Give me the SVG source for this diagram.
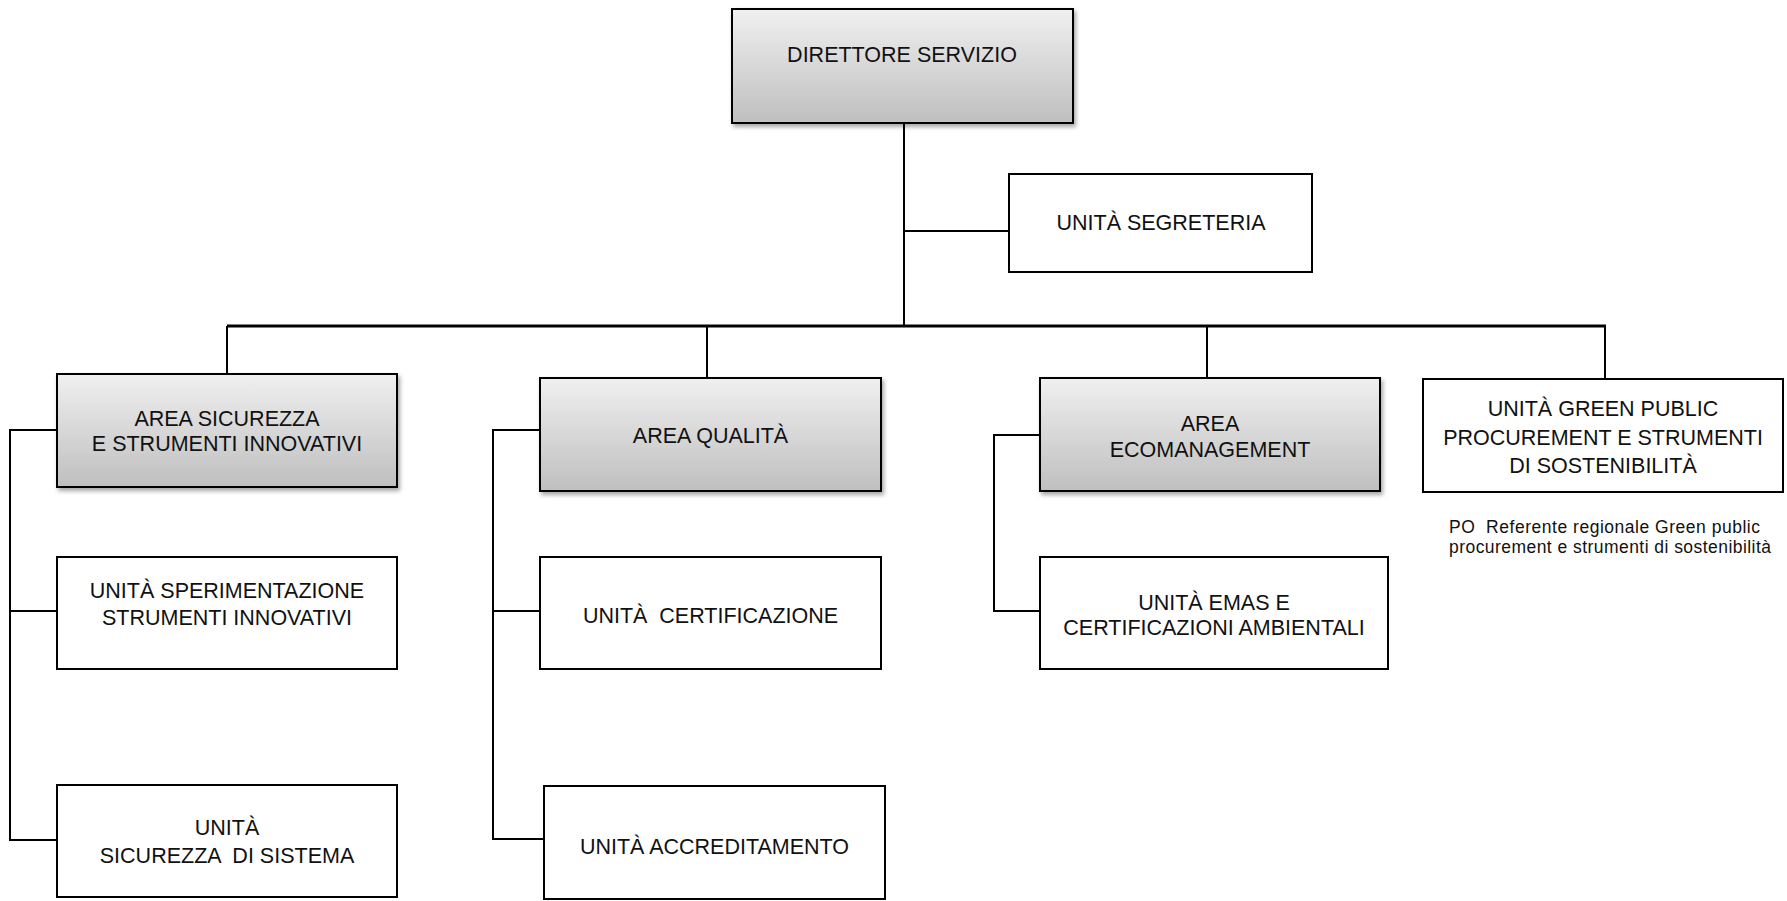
<svg xmlns="http://www.w3.org/2000/svg" width="1787" height="901" viewBox="0 0 1787 901">
  <defs>
    <linearGradient id="gradArea" x1="0" y1="0" x2="0" y2="1">
      <stop offset="0" stop-color="#f0f0f0"/>
      <stop offset="1" stop-color="#bfbfbf"/>
    </linearGradient>
    <filter id="shadow" x="-5%" y="-5%" width="112%" height="125%">
      <feDropShadow dx="2" dy="3" stdDeviation="2" flood-color="#000" flood-opacity="0.35"/>
    </filter>
  </defs>
  <style>
    .area { fill: url(#gradArea); stroke: #000; stroke-width: 2; filter: url(#shadow); }
    .unit { fill: #fff; stroke: #000; stroke-width: 2; }
    .lbl { font-family: "Liberation Sans", Arial, sans-serif; font-size: 21.5px; fill: #111; text-anchor: middle; white-space: pre; }
    .note { font-family: "Liberation Sans", Arial, sans-serif; font-size: 17.5px; fill: #111; white-space: pre; }
    .conn { fill: none; stroke: #000; stroke-width: 2; }
    .bus { fill: none; stroke: #000; stroke-width: 3; }
  </style>
  <rect width="1787" height="901" fill="#fff"/>

  <g id="connectors">
    <path class="conn" d="M904 123 V326"/>
    <path class="conn" d="M904 231 H1009"/>
    <path class="bus" d="M227 326 H1606"/>
    <path class="conn" d="M227 326 V374"/>
    <path class="conn" d="M707 326 V378"/>
    <path class="conn" d="M1207 326 V378"/>
    <path class="conn" d="M1605 326 V379"/>
    <path class="conn" d="M57 430 H10 V840 H57"/>
    <path class="conn" d="M10 611 H57"/>
    <path class="conn" d="M540 430 H493 V839 H544"/>
    <path class="conn" d="M493 611 H540"/>
    <path class="conn" d="M1040 435 H994 V611 H1040"/>
  </g>

  <g id="direttore">
    <rect class="area" x="732" y="9" width="341" height="114"/>
    <text class="lbl" x="902" y="61.5">DIRETTORE SERVIZIO</text>
  </g>
  <g id="segreteria">
    <rect class="unit" x="1009" y="174" width="303" height="98"/>
    <text class="lbl" x="1161" y="229.5">UNITÀ SEGRETERIA</text>
  </g>
  <g id="area-sicurezza">
    <rect class="area" x="57" y="374" width="340" height="113"/>
    <text class="lbl" x="227" y="426">AREA SICUREZZA</text>
    <text class="lbl" x="227" y="451">E STRUMENTI INNOVATIVI</text>
  </g>
  <g id="area-qualita">
    <rect class="area" x="540" y="378" width="341" height="113"/>
    <text class="lbl" x="710.5" y="442.5">AREA QUALITÀ</text>
  </g>
  <g id="area-ecomanagement">
    <rect class="area" x="1040" y="378" width="340" height="113"/>
    <text class="lbl" x="1210" y="431">AREA</text>
    <text class="lbl" x="1210" y="457">ECOMANAGEMENT</text>
  </g>
  <g id="unita-gpp">
    <rect class="unit" x="1423" y="379" width="360" height="113"/>
    <text class="lbl" x="1603" y="416">UNITÀ GREEN PUBLIC</text>
    <text class="lbl" x="1603" y="444.5">PROCUREMENT E STRUMENTI</text>
    <text class="lbl" x="1603" y="473">DI SOSTENIBILITÀ</text>
  </g>
  <g id="po-note">
    <text class="note" x="1449" y="533" textLength="311" lengthAdjust="spacing">PO  Referente regionale Green public</text>
    <text class="note" x="1449" y="553" textLength="322" lengthAdjust="spacing">procurement e strumenti di sostenibilità</text>
  </g>
  <g id="unita-sperimentazione">
    <rect class="unit" x="57" y="557" width="340" height="112"/>
    <text class="lbl" x="227" y="598">UNITÀ SPERIMENTAZIONE</text>
    <text class="lbl" x="227" y="624.5">STRUMENTI INNOVATIVI</text>
  </g>
  <g id="unita-certificazione">
    <rect class="unit" x="540" y="557" width="341" height="112"/>
    <text class="lbl" x="710.5" y="622.5">UNITÀ  CERTIFICAZIONE</text>
  </g>
  <g id="unita-emas">
    <rect class="unit" x="1040" y="557" width="348" height="112"/>
    <text class="lbl" x="1214" y="610">UNITÀ EMAS E</text>
    <text class="lbl" x="1214" y="635">CERTIFICAZIONI AMBIENTALI</text>
  </g>
  <g id="unita-sicurezza-sistema">
    <rect class="unit" x="57" y="785" width="340" height="112"/>
    <text class="lbl" x="227" y="835">UNITÀ</text>
    <text class="lbl" x="227" y="862.5">SICUREZZA  DI SISTEMA</text>
  </g>
  <g id="unita-accreditamento">
    <rect class="unit" x="544" y="786" width="341" height="113"/>
    <text class="lbl" x="714.5" y="853.5">UNITÀ ACCREDITAMENTO</text>
  </g>
</svg>
